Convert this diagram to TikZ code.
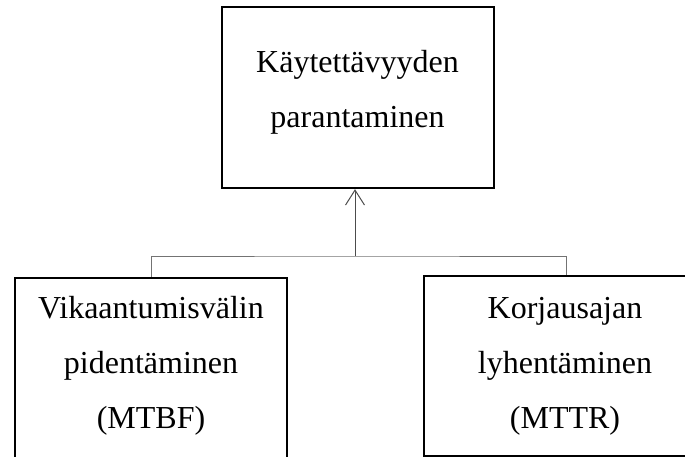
\documentclass[tikz,border=0pt]{standalone}
\usepackage{fontspec}
\setmainfont{Liberation Serif}
\usetikzlibrary{arrows.meta}
\begin{document}
\begin{tikzpicture}[x=1pt,y=-1pt,
  box/.style={draw=black,line width=2.3pt,fill=none,inner sep=0pt},
  lbl/.style={align=center,anchor=base,inner sep=0pt,font=\fontsize{32}{55}\selectfont},
  conn/.style={draw=black!55,line width=1pt},
  arr/.style={draw=black!70,line width=1pt,-{Straight Barb[length=15pt,width=19pt,line width=1pt]}}]
\useasboundingbox (0,0) rectangle (685,457);
\clip (0,0) rectangle (685,457);
% boxes
\node[box,minimum width=272pt,minimum height=181pt] (top) at (358,97.5) {};
\node[box,minimum width=272pt,minimum height=200pt] (lft) at (151,378) {};
\node[box,minimum width=284pt,minimum height=180pt] (rgt) at (566,366) {};
% texts
\node[lbl] (ttop) at (357.5,128) {Käytettävyyden\\parantaminen};
\node[lbl] (tlft) at (151,428) {Vikaantumisvälin\\pidentäminen\\(MTBF)};
\node[lbl] (trgt) at (565,428) {Korjausajan\\lyhentäminen\\(MTTR)};
% connectors
\coordinate (j) at (355,256);
\draw[conn] (lft.north) |- (j) -| (rgt.north);
\draw[arr] (j) -- (j |- top.south);
\end{tikzpicture}
\end{document}
